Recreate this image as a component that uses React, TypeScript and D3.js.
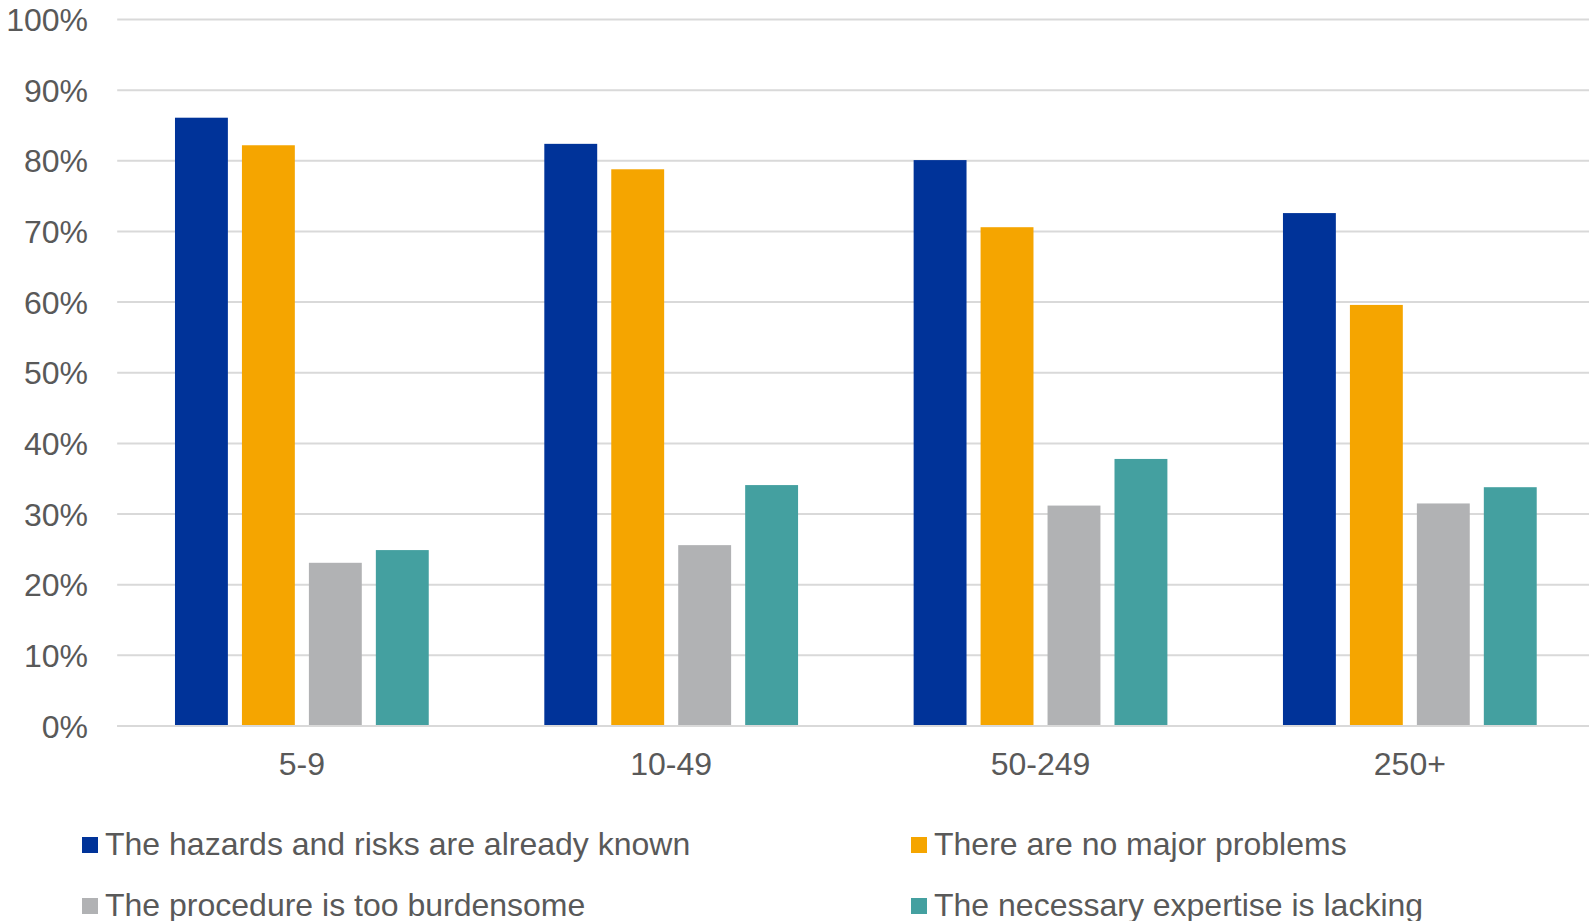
import React from "react";
import * as d3 from "d3";

const categories = ["5-9", "10-49", "50-249", "250+"];
const seriesNames = [
  "The hazards and risks are already known",
  "There are no major problems",
  "The procedure is too burdensome",
  "The necessary expertise is lacking",
];
const hazardsKnown = [86.1, 82.4, 80.1, 72.6];
const noMajorProblems = [82.2, 78.8, 70.6, 59.6];
const tooBurdensome = [23.1, 25.6, 31.2, 31.5];
const expertiseLacking = [24.9, 34.1, 37.8, 33.8];
const yTicks = [0, 10, 20, 30, 40, 50, 60, 70, 80, 90, 100];
const colors = ["#003399", "#f5a500", "#b1b2b4", "#44a0a0"];

const seriesValues = [hazardsKnown, noMajorProblems, tooBurdensome, expertiseLacking];

const W = 1589;
const H = 921;
const plotLeft = 117.2;
const plotRight = 1594.5;
const plotTop = 19.5;
const plotBottom = 726;
const textColor = "#595959";
const font = "'Liberation Sans', Arial, sans-serif";
const fs = 32;

export default function App() {
  const x0 = d3.scaleBand<string>().domain(categories).range([plotLeft, plotRight]).paddingInner(0).paddingOuter(0);
  const x1 = d3
    .scaleBand<number>()
    .domain(d3.range(seriesNames.length))
    .range([0, x0.bandwidth()])
    .paddingInner(0.21)
    .paddingOuter(0.863);
  const y = d3.scaleLinear().domain([0, 100]).range([plotBottom, plotTop]);

  const legendPos = [
    { x: 82, y: 837 },
    { x: 911, y: 837 },
    { x: 82, y: 898 },
    { x: 911, y: 898 },
  ];

  return (
    <svg
      width={W}
      height={H}
      style={{ position: "absolute", left: 0, top: 0, background: "#fff" }}
      fontFamily={font}
    >
      {yTicks.map((t) => (
        <g key={t}>
          <line x1={plotLeft} x2={W} y1={y(t)} y2={y(t)} stroke="#d9d9d9" strokeWidth={2} />
          <text x={88} y={y(t) + 11.5} textAnchor="end" fontSize={fs} fill={textColor}>
            {t}%
          </text>
        </g>
      ))}
      {categories.map((c, ci) => (
        <g key={c}>
          {seriesValues.map((vals, si) => (
            <rect
              key={si}
              x={(x0(c) as number) + (x1(si) as number)}
              y={y(vals[ci])}
              width={x1.bandwidth()}
              height={plotBottom - y(vals[ci])}
              fill={colors[si]}
            />
          ))}
          <text
            x={(x0(c) as number) + x0.bandwidth() / 2}
            y={775}
            textAnchor="middle"
            fontSize={fs}
            fill={textColor}
          >
            {c}
          </text>
        </g>
      ))}
      <line x1={plotLeft} x2={W} y1={plotBottom} y2={plotBottom} stroke="#d9d9d9" strokeWidth={2} />
      {seriesNames.map((n, i) => (
        <g key={n}>
          <rect x={legendPos[i].x} y={legendPos[i].y} width={16} height={16} fill={colors[i]} />
          <text x={legendPos[i].x + 23} y={legendPos[i].y + 18} fontSize={fs} fill={textColor}>
            {n}
          </text>
        </g>
      ))}
    </svg>
  );
}
